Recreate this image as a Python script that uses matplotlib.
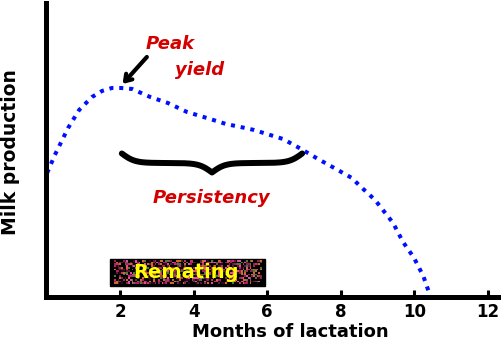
import numpy as np
import matplotlib.pyplot as plt
from matplotlib.colors import to_rgb
from matplotlib.patches import Rectangle

# lactation curve (arbitrary milk units)
months = [0.02, 0.23, 0.59, 0.89, 1.24, 1.51, 1.78, 2.03, 2.33, 2.82, 3.30,
          3.82, 4.36, 4.88, 5.40, 5.64, 6.43, 6.92, 7.38, 7.87, 8.30, 8.52,
          8.93, 9.42, 9.69, 9.99, 10.24, 10.42]
milk = [12.45, 14.25, 16.95, 18.75, 20.05, 20.65, 20.95, 20.95, 20.85, 20.05,
        19.45, 18.55, 17.95, 17.35, 16.95, 16.75, 15.85, 14.85, 13.85, 12.85,
        11.95, 11.15, 9.75, 7.45, 5.55, 3.95, 2.15, 0.25]
x_ticks = [2, 4, 6, 8, 10, 12]

peak = (2.07, 21.35)
persistency_span = (2.05, 6.95)
remating_span = (1.73, 5.94)

FONT = 'DejaVu Sans'
RED = '#d40000'


def brace(x0, x1, y0, depth, beta=28, n=301):
    t = np.linspace(0, 1, n)
    half = t[:n // 2 + 1]
    yh = 1 / (1 + np.exp(-beta * (half - half[0]))) + \
        1 / (1 + np.exp(-beta * (half - half[-1])))
    yf = np.concatenate((yh, yh[-2::-1]))
    return x0 + t * (x1 - x0), y0 - depth * (yf - 0.5)


fig = plt.figure(figsize=(5.02, 3.47), dpi=100)
ax = fig.add_axes([0.0924, 0.1427, 0.8996, 0.8487])
ax.set_xlim(0, 12.27)
ax.set_ylim(0, 29.45)

ax.plot(months, milk, color='#0010ff', lw=2.9, linestyle=(0, (1.0, 1.45)))

for s in ['top', 'right']:
    ax.spines[s].set_visible(False)
for s in ['left', 'bottom']:
    ax.spines[s].set_linewidth(3.6)
ax.set_yticks([])
ax.set_xticks(x_ticks)
ax.tick_params(axis='x', direction='in', length=5, width=2.2, pad=4)
for lab in ax.get_xticklabels():
    lab.set_fontfamily(FONT)
    lab.set_fontweight('bold')
    lab.set_fontsize(12)

italic = dict(color=RED, fontsize=13, fontfamily=FONT, fontweight='bold',
              fontstyle='italic', ha='center', va='center')

# peak yield
ax.annotate('', xy=peak, xytext=(peak[0] + 0.66, peak[1] + 2.7),
            arrowprops=dict(arrowstyle='->, head_length=0.45, head_width=0.3',
                            lw=3, color='black', shrinkA=0, shrinkB=0))
ax.text(3.37, 25.35, 'Peak', **italic)
ax.text(4.15, 22.75, 'yield', **italic)

# persistency brace
bx, by = brace(persistency_span[0], persistency_span[1], 14.4, 1.9)
ax.plot(bx, by, color='black', lw=4.3, solid_capstyle='round')
ax.text(sum(persistency_span) / 2 - 0.02, 9.95, 'Persistency', **italic)

# remating box with speckled texture
rx0, rx1 = remating_span
ax.add_patch(Rectangle((rx0, 1.15), rx1 - rx0, 2.7, color='black', zorder=3))
rng = np.random.default_rng(3)
speck = ['#000000'] * 6 + ['#2a0a18', '#b01868', '#e050a0', '#d06828',
                           '#4a7a38', '#802848', '#601838', '#c03070']
idx = rng.integers(0, len(speck), size=(14, 84))
tex = np.array([[to_rgb(speck[i]) for i in row] for row in idx])
ax.imshow(tex, extent=(rx0 + 0.1, rx1 - 0.1, 1.3, 3.7), aspect='auto',
          interpolation='nearest', zorder=4)
ax.text((rx0 + rx1) / 2 - 0.05, 2.5, 'Remating', color='#ffff00',
        fontsize=14, fontfamily=FONT, fontweight='bold', ha='center',
        va='center', zorder=5)

fig.text(290 / 502, 1 - 332 / 347, 'Months of lactation', fontsize=13,
         fontfamily=FONT, fontweight='bold', ha='center', va='center')
fig.text(11 / 502, 1 - 152 / 347, 'Milk production', fontsize=13.5,
         fontfamily=FONT, fontweight='bold', ha='center', va='center',
         rotation=90)

fig.savefig('out.png', dpi=100)
